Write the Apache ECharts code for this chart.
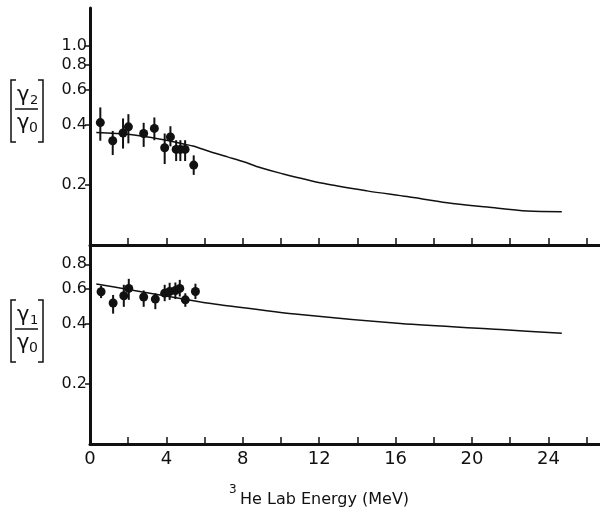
<!DOCTYPE html>
<html>
<head>
<meta charset="utf-8">
<script src="https://cdn.jsdelivr.net/npm/echarts@6/dist/echarts.min.js"></script>
<style>
html, body { margin: 0; padding: 0; background: #fff; }
#main { width: 600px; height: 514px; }
</style>
</head>
<body>
<div id="main"></div>
<script>
// x axis (3He lab energy, MeV): tick and label positions
let xTickValues = [0, 2, 4, 6, 8, 10, 12, 14, 16, 18, 20, 22, 24, 26];
let xLabelValues = [0, 4, 8, 12, 16, 20, 24];
// y axis (log scale) labels for each panel
let yLabelsTop = [0.2, 0.4, 0.6, 0.8, 1.0];
let yLabelsBottom = [0.2, 0.4, 0.6, 0.8];

// gamma2/gamma0 measured points
let r2Energy = [0.54, 1.19, 1.73, 2.01, 2.81, 3.37, 3.91, 4.21, 4.51, 4.73, 4.98, 5.43];
let r2Value = [0.412, 0.334, 0.365, 0.392, 0.363, 0.385, 0.308, 0.349, 0.302, 0.302, 0.302, 0.252];
let r2Low = [0.334, 0.283, 0.305, 0.324, 0.311, 0.336, 0.255, 0.313, 0.264, 0.264, 0.264, 0.225];
let r2High = [0.491, 0.374, 0.432, 0.454, 0.411, 0.437, 0.363, 0.395, 0.336, 0.336, 0.336, 0.282];

// gamma1/gamma0 measured points
let r1Energy = [0.58, 1.21, 1.77, 2.03, 2.81, 3.42, 3.91, 4.17, 4.47, 4.70, 4.99, 5.52];
let r1Value = [0.582, 0.511, 0.556, 0.605, 0.548, 0.535, 0.573, 0.584, 0.591, 0.605, 0.530, 0.584];
let r1Low = [0.541, 0.452, 0.489, 0.530, 0.489, 0.476, 0.522, 0.530, 0.535, 0.551, 0.489, 0.535];
let r1High = [0.624, 0.561, 0.631, 0.676, 0.591, 0.572, 0.631, 0.646, 0.648, 0.668, 0.572, 0.639];

// calculated curves
let fit2Energy = [0.33, 2.1, 3.7, 5.0, 5.4, 6.3, 7.2, 8.05, 8.9, 10.0, 12.2, 14.5, 16.6, 18.7, 20.8, 22.9, 24.7];
let fit2Value = [0.367, 0.359, 0.340, 0.320, 0.314, 0.294, 0.277, 0.262, 0.245, 0.229, 0.204, 0.187, 0.175, 0.163, 0.155, 0.148, 0.147];
let fit1Energy = [0.33, 2.0, 5.8, 6.8, 11.0, 16.25, 21.5, 24.7];
let fit1Value = [0.636, 0.598, 0.517, 0.501, 0.447, 0.403, 0.376, 0.360];

const ink = '#111';
const font = 'DejaVu Sans';

function zip(a, b) {
    return a.map((v, i) => [v, b[i]]);
}
function zip3(a, b, c) {
    return a.map((v, i) => [v, b[i], c[i]]);
}

// vertical error bar drawn through the axis scales
function errorBarItem(params, api) {
    let x = api.value(0);
    let lo = api.coord([x, api.value(1)]);
    let hi = api.coord([x, api.value(2)]);
    return {
        type: 'line',
        shape: { x1: lo[0], y1: lo[1], x2: hi[0], y2: hi[1] },
        style: { stroke: ink, lineWidth: 2 }
    };
}

function makeXAxis(idx, showLabels) {
    return {
        type: 'value',
        gridIndex: idx,
        min: 0,
        max: 26.7,
        axisLine: { lineStyle: { color: ink, width: 3 } },
        axisTick: { inside: true, length: 7, customValues: xTickValues, lineStyle: { color: ink, width: 1.5 } },
        axisLabel: {
            show: showLabels,
            customValues: xLabelValues,
            color: ink,
            fontFamily: font,
            fontSize: 18,
            margin: 6
        },
        splitLine: { show: false }
    };
}

function makeYAxis(idx, maxVal, labels) {
    return {
        type: 'log',
        logBase: 10,
        gridIndex: idx,
        min: 0.1,
        max: maxVal,
        axisLine: { show: true, lineStyle: { color: ink, width: 3 } },
        axisTick: { show: true, length: 5, customValues: labels, lineStyle: { color: ink, width: 1.5 } },
        axisLabel: {
            customValues: labels,
            formatter: v => Number(v).toFixed(1),
            color: ink,
            fontFamily: font,
            fontSize: 16,
            margin: 3
        },
        splitLine: { show: false },
        minorTick: { show: false }
    };
}

// bracketed ratio label [ gamma_n / gamma_0 ]
function ratioLabel(top, sub) {
    let h = 62;
    let mid = top + 29;
    let s = { stroke: ink, lineWidth: 1.5, fill: null };
    return [
        { type: 'polyline', shape: { points: [[16, top], [11, top], [11, top + h], [16, top + h]] }, style: s },
        { type: 'polyline', shape: { points: [[38, top], [43, top], [43, top + h], [38, top + h]] }, style: s },
        { type: 'line', shape: { x1: 15, y1: mid, x2: 38, y2: mid }, style: s },
        { type: 'text', x: 17, y: mid - 13, style: { text: 'γ', font: '21px ' + font, fill: ink, textVerticalAlign: 'middle' } },
        { type: 'text', x: 30, y: mid - 8, style: { text: sub, font: '13px ' + font, fill: ink, textVerticalAlign: 'middle' } },
        { type: 'text', x: 17, y: mid + 15, style: { text: 'γ', font: '21px ' + font, fill: ink, textVerticalAlign: 'middle' } },
        { type: 'text', x: 29, y: mid + 19, style: { text: '0', font: '14px ' + font, fill: ink, textVerticalAlign: 'middle' } }
    ];
}

let myChart = echarts.init(document.getElementById('main'), null, { renderer: 'canvas' });

let option = {
    backgroundColor: '#fff',
    animation: false,
    grid: [
        { left: 90, right: 0, top: 8, height: 237 },
        { left: 90, right: 0, top: 245, height: 199 }
    ],
    xAxis: [makeXAxis(0, false), makeXAxis(1, true)],
    yAxis: [makeYAxis(0, 1.55, yLabelsTop), makeYAxis(1, 1.0, yLabelsBottom)],
    graphic: ratioLabel(80, '2').concat(ratioLabel(300, '1')).concat([
        { type: 'text', x: 229, y: 490, style: { text: '3', font: '12px ' + font, fill: ink, textVerticalAlign: 'middle' } },
        { type: 'text', x: 240, y: 500, style: { text: 'He Lab Energy (MeV)', font: '16px ' + font, fill: ink, textVerticalAlign: 'middle' } }
    ]),
    series: [
        {
            type: 'line', xAxisIndex: 0, yAxisIndex: 0,
            data: zip(fit2Energy, fit2Value),
            smooth: 0.3, showSymbol: false,
            lineStyle: { color: ink, width: 1.5 }
        },
        {
            type: 'custom', xAxisIndex: 0, yAxisIndex: 0,
            data: zip3(r2Energy, r2Low, r2High),
            encode: { x: 0, y: [1, 2] },
            renderItem: errorBarItem
        },
        {
            type: 'scatter', xAxisIndex: 0, yAxisIndex: 0,
            data: zip(r2Energy, r2Value),
            symbolSize: 9,
            itemStyle: { color: ink, opacity: 1 }
        },
        {
            type: 'line', xAxisIndex: 1, yAxisIndex: 1,
            data: zip(fit1Energy, fit1Value),
            smooth: 0.3, showSymbol: false,
            lineStyle: { color: ink, width: 1.5 }
        },
        {
            type: 'custom', xAxisIndex: 1, yAxisIndex: 1,
            data: zip3(r1Energy, r1Low, r1High),
            encode: { x: 0, y: [1, 2] },
            renderItem: errorBarItem
        },
        {
            type: 'scatter', xAxisIndex: 1, yAxisIndex: 1,
            data: zip(r1Energy, r1Value),
            symbolSize: 9,
            itemStyle: { color: ink, opacity: 1 }
        }
    ]
};
myChart.setOption(option);
</script>
</body>
</html>
